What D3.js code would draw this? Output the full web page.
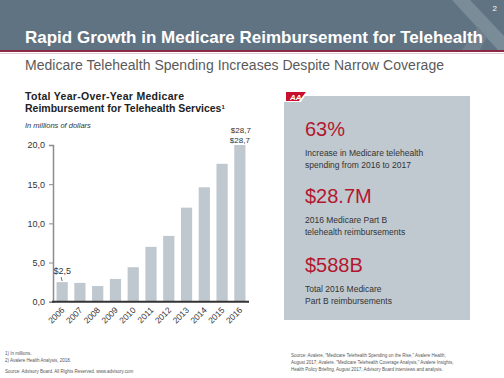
<!DOCTYPE html>
<html>
<head>
<meta charset="utf-8">
<script src="https://cdn.jsdelivr.net/npm/d3@7"></script>
<style>
  html, body { margin: 0; padding: 0; background: #fff; }
  svg { display: block; font-family: "Liberation Sans", Arial, sans-serif; }
</style>
</head>
<body>
<script>
// data (millions of dollars)
const years = ['2006', '2007', '2008', '2009', '2010', '2011', '2012', '2013', '2014', '2015', '2016'];
const spending = [2.5, 2.4, 2.0, 2.9, 4.4, 7.0, 8.4, 12.0, 14.6, 17.6, 28.7];
const yTicks = [0, 5, 10, 15, 20];
const barLabels = [{ year: '2006', text: '$2,5' }, { year: '2016', text: '$28,7' }];

const stats = [
  { big: '63%', lines: ['Increase in Medicare telehealth', 'spending from 2016 to 2017'] },
  { big: '$28.7M', lines: ['2016 Medicare Part B', 'telehealth reimbursements'] },
  { big: '$588B', lines: ['Total 2016 Medicare', 'Part B reimbursements'] }
];

const width = 504, height = 378;
const red = '#b3172f';

const svg = d3.select('body').append('svg')
  .attr('width', width)
  .attr('height', height);

// header band
svg.append('rect')
  .attr('x', 0).attr('y', 0)
  .attr('width', width).attr('height', 50)
  .attr('fill', '#607383');

// faint logo shapes top right
svg.append('polygon')
  .attr('points', '452,0 470,0 504,36 504,50 498,50')
  .attr('fill', '#7a8c98');
svg.append('polygon')
  .attr('points', '462,50 478,27 487,37 480,50')
  .attr('fill', '#6f818e');

svg.append('rect')
  .attr('x', 0).attr('y', 50)
  .attr('width', width).attr('height', 2)
  .attr('fill', '#8a2846');
svg.append('rect')
  .attr('x', 0).attr('y', 53)
  .attr('width', width).attr('height', 0.6)
  .attr('fill', '#c9a7b2');

svg.append('text')
  .attr('x', 497).attr('y', 11)
  .attr('text-anchor', 'end')
  .attr('fill', '#fff')
  .style('font-size', '8px')
  .text('2');

svg.append('text')
  .attr('x', 25).attr('y', 43)
  .attr('fill', '#fff')
  .attr('textLength', 458)
  .attr('lengthAdjust', 'spacing')
  .style('font-size', '17px')
  .style('font-weight', 'bold')
  .text('Rapid Growth in Medicare Reimbursement for Telehealth');

svg.append('text')
  .attr('x', 25).attr('y', 70)
  .attr('fill', '#5a5a5a')
  .attr('textLength', 419)
  .attr('lengthAdjust', 'spacing')
  .style('font-size', '14px')
  .text('Medicare Telehealth Spending Increases Despite Narrow Coverage');

// chart title
const ct = svg.append('g').attr('fill', '#222').style('font-weight', 'bold').style('font-size', '10.5px');
ct.append('text').attr('x', 25).attr('y', 100)
  .attr('textLength', 159).attr('lengthAdjust', 'spacing')
  .text('Total Year-Over-Year Medicare');
const t2 = ct.append('text').attr('x', 25).attr('y', 112);
t2.append('tspan').text('Reimbursement for Telehealth Services');
t2.append('tspan').attr('dy', -3).style('font-size', '6px').text('1');

svg.append('text')
  .attr('x', 25).attr('y', 128)
  .attr('fill', '#333')
  .style('font-size', '7.5px')
  .style('font-style', 'italic')
  .text('In millions of dollars');

// scales
const x = d3.scaleBand()
  .domain(years)
  .range([53, 249])
  .paddingInner(0.37)
  .paddingOuter(0.2);

const y = d3.scaleLinear()
  .domain([0, 20])
  .range([301.7, 145])
  .clamp(true);

const fmt = d => d3.format('.1f')(d).replace('.', ',');

// bars
svg.append('g')
  .selectAll('rect')
  .data(years)
  .enter()
  .append('rect')
  .attr('x', d => x(d))
  .attr('y', (d, i) => y(spending[i]))
  .attr('width', x.bandwidth())
  .attr('height', (d, i) => y(0) - y(spending[i]))
  .attr('fill', '#bfc7cf');

// y axis
const yAxis = d3.axisLeft(y)
  .tickValues(yTicks)
  .tickSize(4)
  .tickPadding(4)
  .tickFormat(fmt);

const yg = svg.append('g')
  .attr('transform', 'translate(53,0)')
  .call(yAxis);
yg.select('.domain').attr('stroke', '#8c8c8c').attr('stroke-width', 1.5);
yg.selectAll('.tick line').attr('stroke', '#8c8c8c');
yg.selectAll('.tick text')
  .attr('fill', '#333')
  .style('font-size', '9px')
  .style('font-family', '"Liberation Sans", Arial, sans-serif');

// x axis
const xAxis = d3.axisBottom(x).tickSize(0).tickPadding(0);
const xg = svg.append('g')
  .attr('transform', 'translate(0,' + y(0) + ')')
  .call(xAxis);
xg.select('.domain').attr('stroke', '#333').attr('stroke-width', 2)
  .attr('d', 'M52,0H249');
xg.selectAll('.tick text')
  .attr('fill', '#333')
  .attr('text-anchor', 'end')
  .attr('dy', 0)
  .attr('transform', 'translate(3,9) rotate(-45)')
  .style('font-size', '8.5px')
  .style('font-family', '"Liberation Sans", Arial, sans-serif');

// value labels
const lab = svg.append('g').attr('fill', '#333').style('font-size', '9px');
lab.append('text')
  .attr('x', x('2006') + x.bandwidth() / 2)
  .attr('y', 274)
  .attr('text-anchor', 'middle')
  .text(barLabels[0].text);
lab.append('line')
  .attr('x1', x('2006') + x.bandwidth() / 2 - 1)
  .attr('x2', x('2006') + x.bandwidth() / 2)
  .attr('y1', 277).attr('y2', 281)
  .attr('stroke', '#333').attr('stroke-width', 0.7);
// the slide shows the 2016 label twice, stacked
lab.append('text')
  .attr('x', x('2016') + x.bandwidth() / 2 + 1)
  .attr('y', 133)
  .attr('text-anchor', 'middle')
  .style('font-size', '8px')
  .text(barLabels[1].text);
lab.append('text')
  .attr('x', x('2016') + x.bandwidth() / 2)
  .attr('y', 143)
  .attr('text-anchor', 'middle')
  .style('font-size', '8px')
  .text(barLabels[1].text);

// right panel
svg.append('rect')
  .attr('x', 284).attr('y', 96)
  .attr('width', 186).attr('height', 224)
  .attr('fill', '#c0c9d0');
svg.append('polygon')
  .attr('points', '284,91 308,91 301,102 284,102')
  .attr('fill', '#fff');
svg.append('polygon')
  .attr('points', '286,92 306,92 299,101 286,101')
  .attr('fill', '#c8102e');
svg.append('text')
  .attr('x', 290).attr('y', 99.5)
  .attr('fill', '#fff')
  .style('font-size', '8px')
  .style('font-weight', 'bold')
  .style('font-style', 'italic')
  .text('AA');

const bigY = [136, 203, 272];
stats.forEach((s, i) => {
  svg.append('text')
    .attr('x', 305).attr('y', bigY[i])
    .attr('fill', red)
    .style('font-size', '20px')
    .text(s.big);
  s.lines.forEach((l, j) => {
    svg.append('text')
      .attr('x', 305).attr('y', bigY[i] + 20 + j * 12)
      .attr('fill', '#333')
      .style('font-size', '8.5px')
      .text(l);
  });
});

// footnotes
const foot = svg.append('g').attr('fill', '#555').style('font-size', '4.5px');
foot.append('text').attr('x', 5).attr('y', 355).text('1) In millions.');
foot.append('text').attr('x', 5).attr('y', 362).text('2) Avalere Health Analysis, 2018.');
foot.append('text').attr('x', 5).attr('y', 373).text('Source: Advisory Board. All Rights Reserved. www.advisory.com');
foot.append('text').attr('x', 291).attr('y', 357).text('Source: Avalere, "Medicare Telehealth Spending on the Rise," Avalere Health,');
foot.append('text').attr('x', 291).attr('y', 364).text('August 2017; Avalere, "Medicare Telehealth Coverage Analysis," Avalere Insights,');
foot.append('text').attr('x', 291).attr('y', 371).text('Health Policy Briefing, August 2017; Advisory Board interviews and analysis.');
</script>
</body>
</html>
